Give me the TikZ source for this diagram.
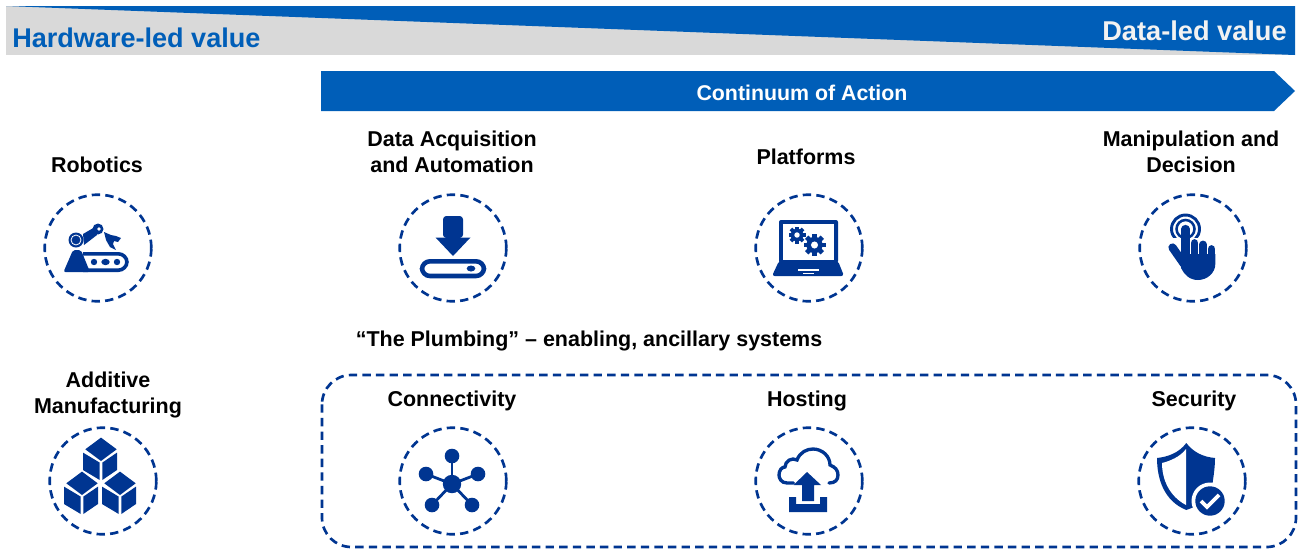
\documentclass[tikz,border=0pt]{standalone}
\usepackage{fontspec}
\setmainfont{Liberation Sans}
\definecolor{barblue}{HTML}{005EB8}
\definecolor{navy}{HTML}{003591}
\definecolor{barcgray}{HTML}{D9D9D9}
\newcommand{\gearicon}[3]{% x,y,radius
  \fill[navy] (#1,#2) circle (#3*0.74);
  \foreach \a in {0,45,...,315}{
    \fill[navy,shift={(#1,#2)},rotate=\a] (-#3*0.22,-#3) rectangle (#3*0.22,0);
  }
  \fill[white] (#1,#2) circle (#3*0.32);
}
\newcommand{\cubeicon}[2]{%
  \begin{scope}[shift={(#1,#2)}]
    \fill[navy] (-15.7,0) -- (0,-11.7) -- (15.7,0) -- (0,11.7) -- cycle;
    \fill[navy] (-18,3.3) -- (-1.3,13.3) -- (-1.3,30.7) -- (-18,20.7) -- cycle;
    \fill[navy] (16,3.3) -- (1.3,13.3) -- (1.3,30.7) -- (16,20.7) -- cycle;
  \end{scope}
}
\tikzset{
  ringnode/.style={circle,draw=navy,line width=2pt,dash pattern=on 6.3pt off 3.9pt,minimum size=80pt,inner sep=0pt},
  headtxt/.style={font=\bfseries\fontsize{16.1}{19.5}\selectfont,text=black,align=center,inner sep=0pt},
  linkline/.style={navy,line width=2.1pt},
}
\begin{document}
\begin{tikzpicture}[x=0.75pt,y=-0.75pt]
\useasboundingbox (0,0) rectangle (1302,550);
% top band
\fill[barcgray] (6,6) rectangle (1295,55);
\fill[barblue] (6,6) -- (1295,6) -- (1295,55) -- cycle;
\node[font=\bfseries\fontsize{20.3}{24}\selectfont,text=barblue,anchor=west,inner sep=0pt] (hw) at (12,38) {Hardware-led value};
\node[font=\bfseries\fontsize{20.4}{24}\selectfont,text=white!95!black,anchor=east,inner sep=0pt] (dl) at (1287,31) {Data-led value};
% arrow
\fill[barblue] (321,71) -- (1274,71) -- (1295,91) -- (1274,111) -- (321,111) -- cycle;
\node[font=\bfseries\fontsize{16}{19}\selectfont,text=white,inner sep=0pt] (coa) at (802,92.5) {Continuum of Action};
% plumbing box
\draw[navy,line width=2pt,dash pattern=on 6.3pt off 3.9pt,rounded corners=22pt] (322,375) rectangle (1296,547);
% labels
\node[headtxt] (t1) at (97,165) {Robotics};
\node[headtxt] (t2) at (452,152) {Data Acquisition\\and Automation};
\node[headtxt] (t3) at (806,157) {Platforms};
\node[headtxt] (t4) at (1191,152) {Manipulation and\\Decision};
\node[headtxt] (t5) at (589,341) {“The Plumbing” – enabling, ancillary systems};
\node[headtxt] (t6) at (108,395) {Additive\\Manufacturing};
\node[headtxt] (t7) at (452,401) {Connectivity};
\node[headtxt] (t8) at (807,401) {Hosting};
\node[headtxt] (t9) at (1194,401) {Security};
% rings
\node[ringnode] (r1) at (98,248) {};
\node[ringnode] (r2) at (453,248) {};
\node[ringnode] (r3) at (809,248) {};
\node[ringnode] (r4) at (1193,248) {};
\node[ringnode] (r5) at (103,481) {};
\node[ringnode] (r6) at (453,481) {};
\node[ringnode] (r7) at (809,481) {};
\node[ringnode] (r8) at (1192,481) {};
% robot
\begin{scope}[shift={(r1.center)}]
  \fill[navy,rounded corners=1.5pt] (-34.5,24) -- (-25,2) -- (-17,2) -- (-8,24) -- cycle;
  \draw[navy,line width=2.7pt,rounded corners=6.5pt] (-15,5.8) -- (29,5.8) -- (29,22.2) -- (-15,22.2);
  \fill[navy] (-4,14) circle (3.2);
  \fill[navy] (7.5,14) ellipse (4.2 and 3.2);
  \fill[navy] (19,14) circle (3.2);
  \fill[navy] (-22,-8) circle (7.5);
  \draw[white,line width=0.6pt] (-22,-8) circle (5);
  \fill[navy] (-15,-14) -- (-3,-21) -- (-1,-13) -- (-14,-3) -- cycle;
  \fill[navy] (0,-19) circle (5.5);
  \fill[white] (1,-19) circle (1.8);
  \fill[navy] (6,-16) -- (13,-13) -- (18,-12) -- (23,-10) -- (20,-6) -- (16,-7) -- (15,-4) -- (18,2) -- (12,-1) -- (8,-8) -- cycle;
\end{scope}
% download
\begin{scope}[shift={(r2.center)}]
  \fill[navy,rounded corners=2.5pt] (-10,-10) -- (-10,-32) -- (10,-32) -- (10,-10) -- cycle;
  \fill[navy] (-17.5,-10.5) -- (17.5,-10.5) -- (0,8) -- cycle;
  \draw[navy,line width=3.4pt,rounded corners=6pt] (-31,13.3) rectangle (31,28);
  \fill[navy] (18,20.5) ellipse (4.3 and 3);
\end{scope}
% laptop
\begin{scope}[shift={(r3.center)}]
  \fill[navy,rounded corners=1.5pt] (-30,-28) rectangle (29,15);
  \fill[white] (-26,-24.5) rectangle (25,12);
  \fill[navy,rounded corners=2pt] (-37,28) -- (-30,13) -- (29,13) -- (35,28) -- cycle;
  \fill[white] (-11,21) rectangle (10,23);
  \fill[white] (-6,25) rectangle (5,26);
  \gearicon{-12}{-13}{8.5}
  \gearicon{5.5}{-3}{11}
\end{scope}
% hand
\begin{scope}[shift={(r4.center)}]
  \begin{scope}
    \clip (-30,-40) rectangle (15,-11);
    \draw[navy,line width=2.2pt] (-7.5,-19) circle (14);
    \draw[navy,line width=1.9pt] (-7.5,-19) circle (9);
  \end{scope}
  \draw[navy,line width=6.2pt,line cap=round] (-7.5,-19) -- (-7.5,12);
  \draw[navy,line width=5.8pt,line cap=round] (1.5,-5) -- (1.5,12);
  \draw[navy,line width=5.8pt,line cap=round] (10,-3.5) -- (10,12);
  \draw[navy,line width=5.8pt,line cap=round] (18.5,1) -- (18.5,14);
  \draw[navy,line width=6.2pt,line cap=round] (-20.5,-0.5) -- (-9,16);
  \fill[navy] (-11.5,6) -- (22.3,6) -- (22.3,16) .. controls (22.3,25) and (14,32) .. (5,32) .. controls (-4,32) and (-9,26) .. (-12,20) -- cycle;
\end{scope}
% cubes
\begin{scope}[shift={(r5.center)}]
  \cubeicon{-2}{-31.7}
  \cubeicon{-21}{2.3}
  \cubeicon{17}{2.3}
\end{scope}
% network
\begin{scope}[shift={(r6.center)}]
  \coordinate (hub) at (-1,3);
  \foreach \x/\y in {-1/-25,-27/-7,25/-7,-21/24,19/24}{
    \draw[linkline] (hub) -- (\x,\y);
    \fill[navy] (\x,\y) circle (7.3);
  }
  \fill[navy] (hub) circle (9.2);
\end{scope}
% cloud upload
\begin{scope}[shift={(r7.center)}]
  \draw[navy,line width=2.5pt,line cap=round] (-15.5,2) -- (-22,2) .. controls (-28,2) and (-30,-3) .. (-30,-6) .. controls (-30,-11) and (-27,-14) .. (-24,-14) .. controls (-24,-20) and (-17,-24) .. (-12,-21) .. controls (-9,-29) and (-2,-32) .. (4,-32) .. controls (13,-32) and (21,-25) .. (21,-16) .. controls (26,-14) and (29,-11) .. (29,-6) .. controls (29,-1) and (26,2) .. (20,2);
  \fill[navy] (-2,-9) -- (12,4) -- (5,4) -- (5,20) -- (-7,20) -- (-7,4) -- (-15.5,4) -- cycle;
  \fill[navy] (-20,16) -- (-13,16) -- (-13,23) -- (11,23) -- (11,16) -- (18,16) -- (18,31) -- (-20,31) -- cycle;
\end{scope}
% shield
\begin{scope}[shift={(r8.center)}]
  \fill[navy] (-5.7,-38) .. controls (-13,-28) and (-25,-24) .. (-35,-23) .. controls (-35,-2) and (-28,20) .. (-5.7,29) -- (18,20) -- (21,-1) .. controls (22,-8) and (23,-15) .. (23,-23) .. controls (12,-24) and (2,-28) .. (-5.7,-38) -- cycle;
  \fill[white] (-6,-32) .. controls (-12,-24) and (-22,-20) .. (-30,-18) .. controls (-30,-2) and (-23,15) .. (-6,24) -- cycle;
  \fill[white] (18,20) circle (18.5);
  \fill[navy] (18,20) circle (14.7);
  \draw[white,line width=2.7pt] (9,20) -- (15,26) -- (27,14);
\end{scope}
\end{tikzpicture}
\end{document}
